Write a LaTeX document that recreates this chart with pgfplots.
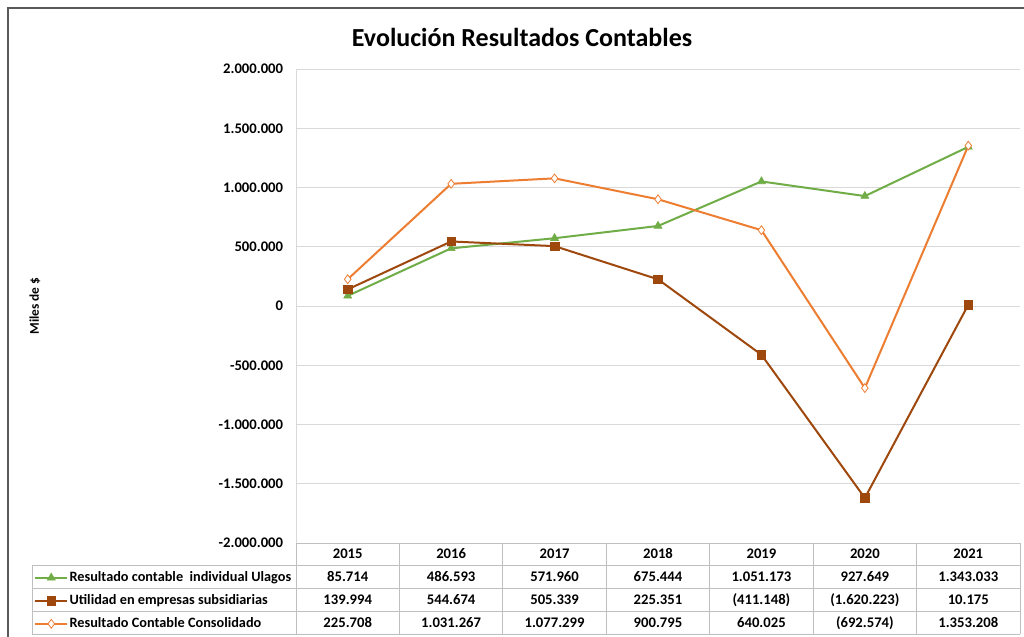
\documentclass[border=0pt]{standalone}
\usepackage{fontspec}
\setmainfont{Carlito}
\usepackage{pgfplots}
\pgfplotsset{compat=1.18}
\definecolor{cgreen}{HTML}{70AD47}
\definecolor{cbrown}{HTML}{9E480E}
\definecolor{corange}{HTML}{ED7D31}
\definecolor{cgrid}{HTML}{D9D9D9}
\definecolor{ctbl}{HTML}{BFBFBF}
\definecolor{cframe}{HTML}{595959}

\begin{document}
\begin{tikzpicture}
\begin{scope}[x=0.75pt,y=-0.75pt]
\useasboundingbox (0,0) rectangle (1024,636);
\fill[white] (0,0) rectangle (1024,636);
\draw[cframe, line width=1.1pt] (8,645) -- (8,8) -- (1035,8);
\node[font=\fontsize{19.5}{23}\selectfont\bfseries] at (522,37) {Evolución Resultados Contables};
\node[font=\fontsize{10}{12}\selectfont\bfseries, rotate=90] at (35,306) {Miles de \$};
\end{scope}
\begin{axis}[
  at={(222pt,-407.25pt)}, anchor=south west,
  scale only axis, width=543pt, height=355.5pt,
  xmin=-0.5, xmax=6.5, ymin=-2000000, ymax=2000000,
  axis lines*=left,
  axis line style={draw=cgrid, line width=0.75pt},
  xtick=\empty,
  scaled y ticks=false,
  ytick={-2000000,-1500000,-1000000,-500000,0,500000,1000000,1500000,2000000},
  yticklabels={-2.000.000,-1.500.000,-1.000.000,-500.000,0,500.000,1.000.000,1.500.000,2.000.000},
  major tick length=0pt,
  yticklabel style={font=\fontsize{11}{13}\selectfont\bfseries, inner sep=0pt, xshift=-9.5pt},
  ymajorgrids, major grid style={draw=cgrid, line width=0.75pt},
  clip=false,
  legend style={at={(-0.3619,-0.0485)}, anchor=north west, draw=none, fill=none,
    inner sep=0pt, row sep=0pt, column sep=1pt,
    font=\fontsize{10.7}{13}\selectfont\bfseries,
    nodes={inner sep=0pt, minimum height=17.25pt}},
  legend cell align=left,
  legend image code/.code={\draw[mark repeat=2,mark phase=2,#1] plot coordinates {(0pt,0pt)(12pt,0pt)(24pt,0pt)};},
]
\addplot[cgreen, line width=1.5pt, mark=triangle*, mark size=3.4pt, mark options={solid, fill=cgreen, draw=cgreen, line width=0.5pt}]
  coordinates {(0,85714) (1,486593) (2,571960) (3,675444) (4,1051173) (5,927649) (6,1343033)};
\addlegendentry{Resultado contable\ \ individual Ulagos}
\addplot[cbrown, line width=1.5pt, mark=square*, mark size=3.2pt, mark options={solid, fill=cbrown, draw=cbrown, line width=0.5pt}]
  coordinates {(0,139994) (1,544674) (2,505339) (3,225351) (4,-411148) (5,-1620223) (6,10175)};
\addlegendentry{Utilidad en empresas subsidiarias}
\addplot[corange, line width=1.5pt, mark=diamond*, mark size=3.3pt, mark options={solid, fill=white, draw=corange, line width=0.6pt}]
  coordinates {(0,225708) (1,1031267) (2,1077299) (3,900795) (4,640025) (5,-692574) (6,1353208)};
\addlegendentry{Resultado Contable Consolidado}
\end{axis}
\begin{scope}[x=0.75pt,y=-0.75pt]
\begin{scope}[draw=ctbl, line width=0.75pt]
\draw (296,543) -- (1020,543);
\foreach \yy in {565,588,611,634} \draw (32,\yy) -- (1020,\yy);
\draw (32,565) -- (32,634);
\foreach \xx in {296,399.43,502.86,606.29,709.71,813.14,916.57,1020} \draw (\xx,543) -- (\xx,634);
\end{scope}
\begin{scope}[every node/.style={font=\fontsize{11}{13}\selectfont\bfseries, text height=7.6pt, text depth=0.5pt, inner sep=0pt}]
\foreach \v [count=\i from 0] in {2015,2016,2017,2018,2019,2020,2021}
  \node at ({347.71+103.43*\i},554) {\v};
\foreach \v [count=\i from 0] in {85.714,486.593,571.960,675.444,1.051.173,927.649,1.343.033}
  \node at ({347.71+103.43*\i},576.5) {\v};
\foreach \v [count=\i from 0] in {139.994,544.674,505.339,225.351,(411.148),(1.620.223),10.175}
  \node at ({347.71+103.43*\i},599.5) {\v};
\foreach \v [count=\i from 0] in {225.708,1.031.267,1.077.299,900.795,640.025,(692.574),1.353.208}
  \node at ({347.71+103.43*\i},622.5) {\v};
\end{scope}
\end{scope}
\end{tikzpicture}
\end{document}
